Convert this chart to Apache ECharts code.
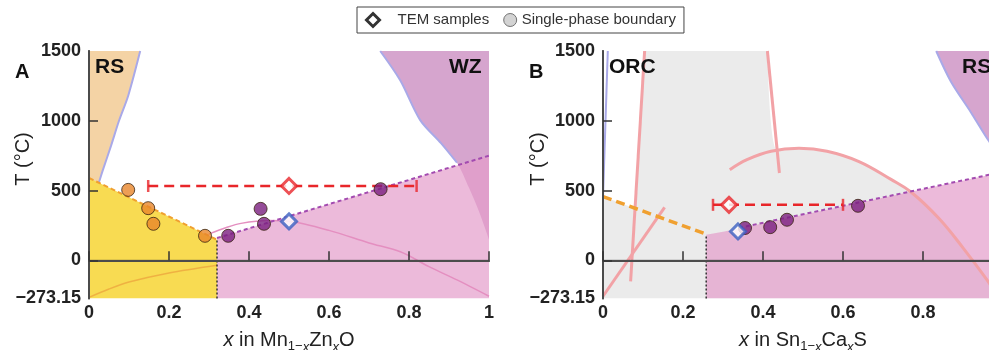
<!DOCTYPE html>
<html>
<head>
<meta charset="utf-8">
<script src="https://cdn.jsdelivr.net/npm/echarts@6/dist/echarts.min.js"></script>
<style>
  html, body { margin: 0; padding: 0; background: #fff; }
  #chart { width: 989px; height: 350px; }
</style>
</head>
<body>
<div id="chart"></div>
<script>
const T_MIN = -273.15, T_MAX = 1500;
const tLabels = [-273.15, 0, 500, 1000, 1500];
const tTicks = [0, 500, 1000];

// panel A : Mn1-xZnxO
const aRsEdge = [[0, 400], [0.005, 430], [0.02, 520], [0.035, 650], [0.055, 820], [0.075, 1000], [0.098, 1180], [0.128, 1500]];
const aWzEdge = [[0.728, 1500], [0.778, 1290], [0.828, 1005], [0.88, 840], [0.92, 700], [0.95, 520], [0.975, 350], [1.0, 150]];
const aOrangeEdge = [[0, 590], [0.32, 148]];
const aPurpleEdge = [[0.32, 160], [1.0, 750]];
const aLowCurve = [[0, -265], [0.05, -205], [0.1, -155], [0.2, -90], [0.32, -35]];
const aDome = [[0.30, 190], [0.34, 232], [0.38, 265], [0.45, 285], [0.5, 280], [0.6, 215], [0.7, 125], [0.78, 60], [0.85, -45], [0.92, -140], [1.0, -257]];
const aSplitX = 0.32;
const aOrangePts = [[0.098, 505], [0.148, 374], [0.161, 262], [0.29, 176]];
const aPurplePts = [[0.348, 176], [0.429, 369], [0.4375, 262], [0.729, 510]];
const aTemRed = [0.5, 533];
const aTemBlue = [0.5, 279];
const aErrX = [0.148, 0.819];

// panel B : Sn1-xCaxS
const bLeftEdge = [[0, 450], [0.012, 1500]];
const bOrcEdge = [[0, 457], [0.08, 372], [0.104, 1500]];
const bLine1 = [[0.104, 1500], [0.069, -150]];
const bLine2 = [[0, -257], [0.154, 379]];
const bLine3 = [[0.411, 1500], [0.441, 626]];
const bArc = [[0.317, 650], [0.36, 722], [0.42, 782], [0.49, 803], [0.56, 782], [0.64, 708], [0.72, 580], [0.77, 490], [0.84, 300], [0.9, 90], [0.96, -140], [0.99, -273.15]];
const bRsEdge = [[0.833, 1500], [0.87, 1280], [0.92, 1060], [0.963, 862], [1.0, 720]];
const bPinkEdge = [[0.258, 183], [0.30, 205], [0.34, 228], [1.0, 634]];
const bOrangeEdge = [[0, 457], [0.256, 190]];
const bPurpleEdge = [[0.34, 233], [1.0, 634]];
const bSplitX = 0.258;
const bPurplePts = [[0.355, 232], [0.418, 238], [0.46, 291], [0.6375, 391]];
const bTemRed = [0.315, 398];
const bTemBlue = [0.3375, 207];
const bErrX = [0.275, 0.60];

const FONT = "'Liberation Sans', Arial, sans-serif";
const PEACH = '#f4d3a5', YELLOW = '#f8db52', MAUVE = '#d6a5ce', PINK = 'rgba(228,156,202,0.7)';
const BLUE = '#a9a9e8', SALMON = '#f2a2a6', ORANGE = '#f0a030', PURPLE = '#a34bb0', RED = '#e8262a';

const chart = echarts.init(document.getElementById('chart'));

function fill(g, data, color, origin, z, smooth) {
  return { type: 'line', xAxisIndex: g, yAxisIndex: g, data: data, symbol: 'none', silent: true, smooth: smooth || false,
    lineStyle: { width: 0 }, areaStyle: { color: color, origin: origin, opacity: 1 }, z: z };
}
function curve(g, data, color, width, type, z, smooth) {
  return { type: 'line', xAxisIndex: g, yAxisIndex: g, data: data, symbol: 'none', silent: true, smooth: smooth || false,
    lineStyle: { color: color, width: width, type: type || 'solid' }, z: z };
}
function errBar(g, xs, t) {
  return [
    curve(g, [[xs[0], t], [xs[1], t]], RED, 2.5, [10, 6], 6),
    { type: 'scatter', xAxisIndex: g, yAxisIndex: g, data: [[xs[0], t], [xs[1], t]], symbol: 'rect',
      symbolSize: [2.5, 12], itemStyle: { color: RED }, silent: true, z: 6 }
  ];
}
function circles(g, pts, color) {
  return { type: 'scatter', name: 'Single-phase boundary', xAxisIndex: g, yAxisIndex: g, data: pts,
    symbol: 'circle', symbolSize: 13, itemStyle: { color: color, borderColor: '#3a2410', borderWidth: 1 }, z: 7 };
}
function tem(g, red, blue) {
  return { type: 'scatter', name: 'TEM samples', xAxisIndex: g, yAxisIndex: g, symbol: 'diamond', symbolSize: 15, z: 8,
    data: [
      { value: red, itemStyle: { color: '#fff', borderColor: RED, borderWidth: 3 } },
      { value: blue, itemStyle: { color: '#fff', borderColor: '#3b5fc0', borderWidth: 3 } }
    ] };
}

const xName = (formula) => ({
  name: formula, nameLocation: 'middle', nameGap: 27,
  nameTextStyle: { fontFamily: FONT, fontSize: 20, color: '#222', lineHeight: 26,
    rich: {
      i: { fontFamily: FONT, fontSize: 20, fontStyle: 'italic', color: '#222', lineHeight: 26 },
      s: { fontFamily: FONT, fontSize: 13, color: '#222', lineHeight: 13, verticalAlign: 'bottom' },
      si: { fontFamily: FONT, fontSize: 13, fontStyle: 'italic', color: '#222', lineHeight: 13, verticalAlign: 'bottom' }
    } }
});

function bottomAxis(g, formula) {
  return Object.assign({
    type: 'value', gridIndex: g, min: 0, max: 1, interval: 0.2, z: 5,
    axisLine: { show: true, lineStyle: { color: '#333', width: 2 } },
    axisTick: { show: true, inside: true, length: 9, lineStyle: { color: '#333', width: 1.5 } },
    axisLabel: { fontFamily: FONT, fontSize: 18, fontWeight: 'bold', color: '#222', margin: 6 },
    splitLine: { show: false }
  }, xName(formula));
}
function leftAxis(g) {
  return {
    type: 'value', gridIndex: g, min: T_MIN, max: T_MAX, z: 5,
    axisLine: { show: true, lineStyle: { color: '#333', width: 2 } },
    axisTick: { show: true, inside: true, length: 9, customValues: tTicks, lineStyle: { color: '#333', width: 1.5 } },
    axisLabel: { fontFamily: FONT, fontSize: 18, fontWeight: 'bold', color: '#222', margin: 8,
      customValues: tLabels, formatter: v => (v < 0 ? '\u2212273.15' : String(v)) },
    splitLine: { show: false }
  };
}
function frameAxis(kind, g) {
  const a = { type: 'value', gridIndex: g, z: 5,
    axisLine: { show: true, lineStyle: { color: '#555', width: 1.5 } },
    axisTick: { show: false }, axisLabel: { show: false }, splitLine: { show: false } };
  if (kind === 'x') { a.position = 'top'; a.min = 0; a.max = 1; }
  else { a.position = 'right'; a.min = T_MIN; a.max = T_MAX; }
  return a;
}

const series = [
  // A
  fill(0, aRsEdge, PEACH, 'end', 1, 0.3),
  fill(0, aWzEdge, MAUVE, 'end', 1, 0.3),
  curve(0, aRsEdge, BLUE, 2, 'solid', 1, 0.3),
  curve(0, aWzEdge.slice(0, 5), BLUE, 2, 'solid', 1, 0.3),
  fill(0, aOrangeEdge, YELLOW, 'start', 2),
  fill(0, aPurpleEdge, PINK, 'start', 2),
  curve(0, aLowCurve, 'rgba(235,160,60,0.7)', 1.5, 'solid', 3, 0.3),
  curve(0, aDome, '#e48fc0', 1.5, 'solid', 3, 0.3),
  curve(0, aOrangeEdge, ORANGE, 2, [5, 3], 4),
  curve(0, aPurpleEdge, PURPLE, 2, [4, 3], 4),
  curve(0, [[0, 0], [1, 0]], '#333', 1, 'solid', 4),
  curve(0, [[aSplitX, T_MIN], aOrangeEdge[1]], '#333', 1.5, [2, 2], 4),
  ...errBar(0, aErrX, aTemRed[1]),
  circles(0, aOrangePts, '#e8862a'),
  circles(0, aPurplePts, '#7a1f80'),
  tem(0, aTemRed, aTemBlue),
  // B
  fill(1, [[0, T_MAX], [1, T_MAX]], '#ebebeb', 'start', 1),
  fill(1, bOrcEdge, '#fff', 'end', 1),
  fill(1, [bLine3[0], [0.4355, 790]].concat(bArc.filter(p => p[0] > 0.44)), '#fff', 'end', 1, 0.3),
  fill(1, bRsEdge, MAUVE, 'end', 1, 0.3),
  curve(1, bRsEdge, BLUE, 2, 'solid', 1, 0.3),
  curve(1, bLeftEdge, BLUE, 2, 'solid', 1),
  fill(1, bPinkEdge, PINK, 'start', 2),
  curve(1, bLine1, SALMON, 3, 'solid', 3),
  curve(1, bLine2, SALMON, 3, 'solid', 3),
  curve(1, bLine3, SALMON, 3, 'solid', 3),
  curve(1, bArc, SALMON, 3, 'solid', 3, 0.4),
  curve(1, bOrangeEdge, ORANGE, 3.5, [9, 5], 4),
  curve(1, bPurpleEdge, PURPLE, 2, [4, 3], 4),
  curve(1, [[0, 0], [1, 0]], '#333', 1, 'solid', 4),
  curve(1, [[bSplitX, T_MIN], [bSplitX, bPinkEdge[0][1]]], '#333', 1.5, [2, 2], 4),
  ...errBar(1, bErrX, bTemRed[1]),
  circles(1, bPurplePts, '#7a1f80'),
  tem(1, bTemRed, bTemBlue)
];

const label = (text, left, top, size) => ({
  type: 'text', left: left, top: top, z: 100,
  style: { text: text, fontFamily: FONT, fontSize: size, fontWeight: 'bold', fill: '#111' }
});
const tTitle = (x, y) => ({
  type: 'text', x: x, y: y, rotation: Math.PI / 2, z: 100,
  style: { text: 'T (\u00b0C)', fontFamily: FONT, fontSize: 20, fill: '#222', align: 'center', verticalAlign: 'middle' }
});

chart.setOption({
  animation: false,
  backgroundColor: '#fff',
  grid: [
    { left: 89, top: 51, width: 400, height: 247.5, outerBoundsMode: 'none', containLabel: false },
    { left: 603, top: 51, width: 400, height: 247.5, outerBoundsMode: 'none', containLabel: false }
  ],
  xAxis: [
    bottomAxis(0, '{i|x} in Mn{s|1\u2212}{si|x}Zn{si|x}O'),
    bottomAxis(1, '{i|x} in Sn{s|1\u2212}{si|x}Ca{si|x}S'),
    frameAxis('x', 0), frameAxis('x', 1)
  ],
  yAxis: [leftAxis(0), leftAxis(1), frameAxis('y', 0), frameAxis('y', 1)],
  legend: {
    left: 357, top: 7, padding: [5, 8], itemGap: 14, itemWidth: 13, itemHeight: 13,
    borderColor: '#444', borderWidth: 1, selectedMode: false,
    textStyle: { fontFamily: FONT, fontSize: 15, color: '#333' },
    data: [
      { name: 'TEM samples', icon: 'diamond', itemStyle: { color: '#fff', borderColor: '#000', borderWidth: 3 },
        textStyle: { padding: [0, 0, 0, 13] } },
      { name: 'Single-phase boundary', icon: 'circle', itemStyle: { color: '#c8c8c8', borderColor: '#555', borderWidth: 1 } }
    ]
  },
  graphic: [
    label('A', 15, 62, 20), label('B', 529, 62, 20),
    label('RS', 95, 57, 21), label('WZ', 449, 57, 21),
    label('ORC', 609, 57, 21), label('RS', 962, 57, 21),
    tTitle(23, 159), tTitle(538, 159)
  ],
  series: series
});
</script>
</body>
</html>
